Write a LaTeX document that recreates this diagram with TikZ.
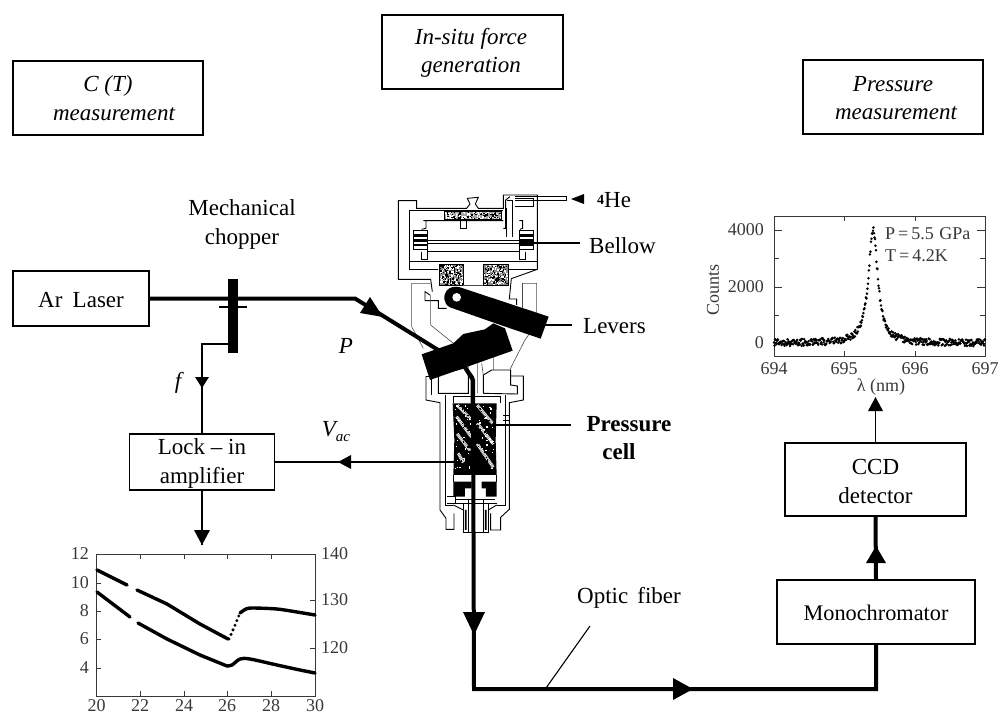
\documentclass[tikz,border=0pt]{standalone}
\usepackage{fontspec}
\setmainfont{Liberation Serif}
\newcommand\txt{\fontsize{23}{29}\selectfont}
\newcommand\plt{\fontsize{18}{21}\selectfont}
\definecolor{plotgrey}{gray}{0.22}
\newcommand\speckle[6]{% x0 y0 w h n colour
  \foreach \i in {1,...,#5}{%
    \pgfmathsetmacro\qa{#1+rnd*#3}\pgfmathsetmacro\qb{#2+rnd*#4}%
    \fill[#6] (\qa,\qb) rectangle ++(4,4);}}
\tikzset{
  z1/.style={shift={(340,180)},x=.3333pt,y=-.3333pt},
  z2/.style={shift={(400,340)},x=.3333pt,y=-.3333pt},
  wall/.style={line width=.9pt,black,line join=miter},
  sketch/.style={line width=.6pt,black!70},
  thick beam/.style={line width=4pt,line join=miter},
  mid beam/.style={line width=1.4pt},
  tip/.style={fill=black},
  titlebox/.style={draw,line width=1.4pt,align=center,font=\txt\itshape,inner sep=0pt},
  unitbox/.style={draw,line width=1.3pt,align=center,font=\txt,inner sep=0pt,fill=white},
  label/.style={font=\txt,inner sep=0pt,align=center},
  axisline/.style={line width=.9pt,plotgrey},
  plotlab/.style={font=\plt,text=plotgrey,inner sep=0pt},
  curve/.style={line width=3.4pt,line cap=round,line join=round}
}
\begin{document}
\begin{tikzpicture}[x=1pt,y=-1pt]
\useasboundingbox (0,0) rectangle (998,715);

% title boxes
\node[titlebox,minimum width=190pt,minimum height=74pt] (tc) at (108,98) {};
\node[inner sep=0pt,font=\txt\itshape] (tc1) at (108,86) {C (T)};
\node[inner sep=0pt,font=\txt\itshape] (tc2) at (114,114) {measurement};
\node[titlebox,minimum width=181pt,minimum height=74pt] (ti) at (472.5,52) {};
\node[inner sep=0pt,font=\txt\itshape] (ti1) at (471,39) {In-situ force};
\node[inner sep=0pt,font=\txt\itshape] (ti2) at (471,67) {generation};
\node[titlebox,minimum width=180pt,minimum height=74pt] (tp) at (893,97) {};
\node[inner sep=0pt,font=\txt\itshape] (tp1) at (893,84) {Pressure};
\node[inner sep=0pt,font=\txt\itshape] (tp2) at (896,113) {measurement};

% ---- cell head
\begin{scope}[z1]
  \pgfmathsetseed{7}
  \fill[black!35] (312,95) rectangle (485,118);
  \speckle{312}{95}{170}{20}{110}{white}
  \speckle{312}{95}{170}{20}{60}{black}
  \fill[black!45] (297,252) rectangle (370,315);
  \speckle{297}{252}{70}{60}{130}{white}
  \speckle{297}{252}{70}{60}{90}{black}
  \fill[black!45] (430,252) rectangle (505,315);
  \speckle{430}{252}{70}{60}{130}{white}
  \speckle{430}{252}{70}{60}{90}{black}
  \draw[wall] (297,252) rectangle (370,315) (430,252) rectangle (505,315) (312,95) rectangle (485,118);
  % outer housing
  \draw[wall] (270,345)--(255,335)--(255,362)--(295,362)--(295,385)--(320,385);
  \draw[wall] (277,335)--(272,298)--(175,298)--(175,62)--(230,62)--(230,85)--(380,85)--(390,72)--(382,55)--(415,52)--(406,72)--(415,85)--(490,85)--(490,45)--(592,45)--(592,268)--(514,296)--(508,357)--(530,357)--(530,375);
  \draw[wall] (207,92)--(490,92) (207,92)--(207,268)--(295,268);
  \draw[wall] (505,268)--(592,268);
  \draw[wall] (207,243)--(592,243);
  \draw[wall] (500,85)--(500,170) (518,80)--(518,170) (500,60)--(518,60)--(518,80);
  \draw[wall] (490,145)--(497,145)--(497,60)--(510,50);
  \draw[wall] (525,55)--(580,55)--(580,80)--(525,80);
  % He inlet
  \draw[wall] (525,48)--(680,48) (525,62)--(680,62) (680,48)--(680,62);
  % bellows support plate
  \draw[wall] (250,122)--(490,122) (258,122)--(258,145)--(245,148) (538,122)--(548,122)--(548,145)--(540,148);
  \draw[wall] (362,122)--(362,145)--(380,145)--(380,122);
  \draw[line width=1.6pt] (262,182)--(538,182);
  \draw[wall] (262,190)--(538,190) (262,215)--(538,215) (262,172)--(262,240) (538,172)--(538,240);
  \draw[wall] (245,215)--(245,238)--(262,238) (555,215)--(555,238)--(538,238);
  % bellows
  \foreach \bx in {220,538}{
    \foreach \by in {150,165,180,195}{
      \draw[wall,fill=white] (\bx,\by) rectangle ++(42,12);
    }
    \fill (\bx,168) rectangle ++(42,3) (\bx,183) rectangle ++(42,3);
  }
  % skirts
  \draw[sketch] (272,310)--(215,310)--(215,440)--(250,505);
  \draw[sketch] (272,345)--(272,435)--(340,490);
  \draw[sketch] (548,310)--(590,310)--(590,430)--(555,480)--(510,568);
  \draw[sketch] (548,310)--(548,385) (370,315)--(430,315);
\end{scope}

% ---- cell body
\begin{scope}[z2]
  \pgfmathsetseed{11}
  \draw[wall] (78,108)--(95,108)--(95,165);
  \draw[wall] (78,108)--(78,180)--(120,188)--(120,510)--(138,535)--(138,568)--(162,568)--(162,520);
  \draw[wall] (115,105)--(190,85) (115,105)--(115,160)--(205,160)--(205,100);
  \draw[wall] (250,160)--(352,162)--(352,138)--(332,135)--(332,90)--(275,90)--(250,105)--(250,160);
  \draw[wall] (332,108)--(370,108)--(370,180)--(328,188)--(328,508)--(302,532)--(302,570)--(272,570)--(272,520);
  \draw[wall] (135,165)--(135,495)--(160,495);
  \draw[wall] (316,165)--(316,495)--(290,495);
  \draw[wall] (160,170)--(300,170)--(300,190) (160,170)--(160,190);
  \draw[wall] (310,225)--(330,225) (310,240)--(330,240);
  \draw[sketch] (205,100)--(205,70) (232,70)--(232,160) (245,70)--(250,105) (280,50)--(280,90);
  % pressure cell
  \fill (158,190)--(290,190)--(287,300)--(290,405)--(160,405)--(163,300)--cycle;
  \foreach \xa/\ya/\xb/\yb in {172/196/215/240,170/230/215/292,172/282/210/332,175/340/190/368,232/196/278/250,232/250/280/312,232/312/280/382}{
    \draw[black!45,line width=3pt] (\xa,\ya)--(\xb,\yb);
    \draw[white,line width=3pt,dash pattern=on .6pt off 1pt] (\xa,\ya)--(\xb,\yb);
  }
  \speckle{165}{195}{120}{200}{170}{black}
  \speckle{165}{195}{45}{190}{25}{white}
  \speckle{228}{195}{55}{190}{25}{white}
  % anvils
  \fill (160,425)--(215,425)--(215,445)--(195,445)--(195,470)--(160,470)--cycle;
  \fill (290,425)--(245,425)--(245,445)--(258,445)--(258,470)--(290,470)--cycle;
  \draw[wall] (160,405)--(160,425) (290,405)--(290,425);
  \draw[wall] (140,468)--(165,468)--(165,490)--(140,490) (165,478)--(285,478) (165,490)--(290,490);
  \draw[wall] (190,490)--(190,578)--(265,578)--(265,490);
  \draw[wall] (205,480)--(205,578) (250,480)--(250,578);
  \fill (195,510) rectangle (200,570) (255,510) rectangle (260,570);
  \draw[wall] (160,495)--(190,510) (290,495)--(265,510);
\end{scope}

% named points
\coordinate (bendA) at (355,298.5);
\coordinate (bendB) at (464,366);
\coordinate (bendC) at (473,380);
\coordinate (fibreCorner) at (474,689);
\coordinate (tap) at (228,344);
\coordinate (tapCorner) at (202,344);
\coordinate (cellLeft) at (455,462);
\coordinate (cellRight) at (495,425);
\coordinate (bellowEnd) at (580,243);
\coordinate (bellowStart) at (520,243);
\coordinate (leverStart) at (518,325);
\coordinate (leverEnd) at (572,325);
\coordinate (cellLabelEnd) at (571,425);
\coordinate (fibreMark) at (546,688);
\coordinate (fibreLabelEnd) at (590,626);
\coordinate (lockOut) at (202,545);
\coordinate (specIn) at (875.5,400);

% units
\node[unitbox,minimum width=136pt,minimum height=55pt] (laser) at (81,298.5) {};
\node[label] (laserT) at (81,300) {Ar\hspace{.45em}Laser};
\node[unitbox,minimum width=145pt,minimum height=56pt] (lock) at (202,462) {};
\node[label] (lockT) at (202,463.5) {Lock -- in\\amplifier};
\node[unitbox,minimum width=181pt,minimum height=73pt] (ccd) at (875.5,479.5) {};
\node[label] (ccdT) at (875.5,481) {CCD\\detector};
\node[unitbox,minimum width=198pt,minimum height=64pt] (mono) at (876,612) {};
\node[label,font=\fontsize{22.3}{26}\selectfont] (monoT) at (876,613) {Monochromator};
\node[fill=black,inner sep=0pt,minimum width=10pt,minimum height=74pt] (chop) at (233,316) {};
\coordinate (shaftL) at (219,307);
\coordinate (shaftR) at (247,307);

% optical path
\draw[thick beam] (laser.east) -- (bendA) -- (bendB) -- (bendC) -- (fibreCorner) -- (fibreCorner -| mono.south) -- (mono.south);
\draw[thick beam] (mono.north) -- (ccd.south);
\draw[mid beam] (shaftL) -- (shaftR);
\fill[tip] (370,297) -- (360,313) -- (383,317) -- cycle;
\fill[tip] (463,612) -- (485,612) -- (474,635) -- cycle;
\fill[tip] (673,678) -- (693,689) -- (673,700) -- cycle;
\fill[tip] (866,563) -- (886,563) -- (876,546) -- cycle;

% levers over the beam
\begin{scope}[z1]
  \fill (320,332) .. controls (330,320) and (345,318) .. (360,322) -- (626,410) -- (602,476) -- (490,438) -- (330,382) .. controls (310,372) and (308,345) .. (320,332) -- cycle;
  \fill[white] (350,352) circle (13);
  \fill (245,523) -- (340,490) -- (370,462) -- (435,448) -- (460,430) -- (495,445) -- (518,512) -- (270,600) -- cycle;
\end{scope}
\begin{scope}[z2]
  \draw[line width=3.5pt] (194,80)--(217,112)--(217,190);
\end{scope}

% signal lines
\draw[mid beam,line join=miter] (tap) -- (tapCorner) -- (tapCorner |- lock.north);
\fill[tip] (195,377) -- (209,377) -- (202,388) -- cycle;
\draw[mid beam] (lock.south) -- (lockOut);
\fill[tip] (194,530) -- (210,530) -- (202,545) -- cycle;
\draw[mid beam] (cellLeft) -- (lock.east);
\fill[tip] (351,455) -- (351,469) -- (338,462) -- cycle;
\draw[mid beam] (ccd.north) -- (specIn);
\fill[tip] (868,411) -- (883,411) -- (875.5,397) -- cycle;
\draw[line width=1.1pt] (bellowStart) -- (bellowEnd);
\draw[line width=1.1pt] (leverStart) -- (leverEnd);
\draw[line width=1.1pt] (cellRight) -- (cellLabelEnd);
\draw[line width=1.1pt] (fibreMark) -- (fibreLabelEnd);
\fill[tip] (584,194) -- (571,199) -- (584,204) -- cycle;

% labels
\node[label] (mech) at (242,224.5) {Mechanical\\chopper};
\node[label,font=\txt\itshape] (lP) at (346,346) {P};
\node[label,font=\txt\itshape] (lf) at (178,383) {f};
\node[label,font=\txt\itshape] (lV) at (329,429) {V};
\node[label,font=\fontsize{15}{17}\selectfont\itshape] (lac) at (343,438) {ac};
\node[label,anchor=west] (he) at (597,200) {\textbf{\fontsize{14}{16}\selectfont\raisebox{.45ex}{4}}He};
\node[label,anchor=west] (bel) at (589,246) {Bellow};
\node[label,anchor=west] (lev) at (583,326) {Levers};
\node[label,font=\txt\bfseries] (pc1) at (629,424) {Pressure};
\node[label,font=\txt\bfseries] (pc2) at (619,452) {cell};
\node[label] (of) at (629,598) {Optic\hspace{.4em}fiber};

% ---- left plot
\draw[axisline] (96.5,554) rectangle (315,696);
\foreach \xv/\xp in {20/96.5,22/140,24/184,26/227,28/271,30/315}{
  \draw[axisline] (\xp,696)--(\xp,691) (\xp,554)--(\xp,559);
  \node[plotlab] at (\xp,705.5) {\xv};
}
\foreach \yv/\yp in {12/554,10/583,8/611,6/639,4/668}{
  \draw[axisline] (96.5,\yp)--(101,\yp);
  \node[plotlab,anchor=east] at (89,\yp) {\yv};
}
\foreach \yv/\yp in {140/554,130/600,120/648}{
  \draw[axisline] (315,\yp)--(310,\yp);
  \node[plotlab,anchor=west] at (321,\yp) {\yv};
}
\draw[curve] (97,570) -- (127,585);
\draw[curve] (137,590) -- (167,604) -- (200,624) -- (228,639);
\draw[curve,dash pattern=on 0pt off 5pt] (229,639) -- (233,630) -- (240,613);
\draw[curve] plot[smooth] coordinates {(240,613) (246,609) (253,608) (277,609) (297,612) (315,615)};
\draw[curve] (97,592) -- (130,617);
\draw[curve] (138,623) -- (167,639) -- (200,655) -- (227,666);
\draw[curve] plot[smooth] coordinates {(227,666) (232,665) (240,659) (250,659) (277,665) (300,670) (315,673)};

% ---- right plot
\draw[axisline] (774,216) rectangle (985,356);
\foreach \xv/\xp in {694/774,695/844,696/915,697/985}{
  \draw[axisline] (\xp,356)--(\xp,351) (\xp,216)--(\xp,221);
  \node[plotlab] at (\xp,369) {\xv};
}
\foreach \yv/\yp in {4000/230,2000/287,0/343}{
  \draw[axisline] (774,\yp)--(782,\yp) (985,\yp)--(977,\yp);
  \node[plotlab,anchor=east] at (764,\yp) {\yv};
}
\foreach \yp in {258.5,315}{
  \draw[axisline] (774,\yp)--(779,\yp) (985,\yp)--(980,\yp);
}
\pgfmathsetseed{5}
\foreach \k in {0,...,420}{
  \pgfmathsetmacro\lx{\k/140}
  \pgfmathsetmacro\ly{4000/(1+((\lx-1.41)/0.08)^2)+10}
  \pgfmathsetmacro\px{774+\lx*70.33}
  \pgfmathsetmacro\py{343.3-\ly*0.02825+(rnd-0.5)*7}
  \fill (\px,\py) circle (1.4);
}
\node[plotlab,anchor=west] (pl1) at (885,234) {P\,=\,5.5\hspace{.3em}GPa};
\node[plotlab,anchor=west] (pl2) at (885,256) {T\,=\,4.2K};
\node[plotlab,rotate=90] (pl3) at (713,290) {Counts};
\node[plotlab] (pl4) at (881,387) {λ (nm)};
\end{tikzpicture}
\end{document}
